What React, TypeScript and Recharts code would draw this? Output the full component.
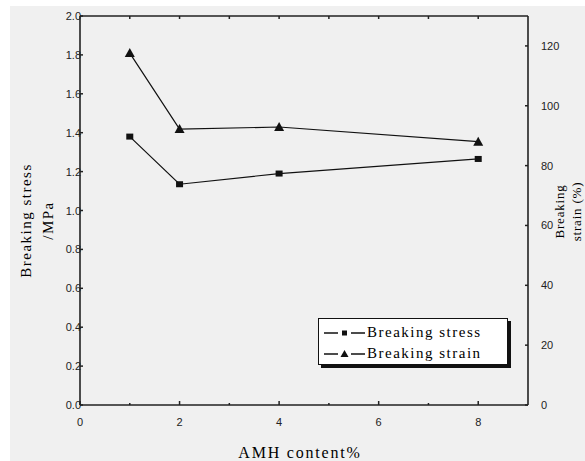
import React from 'react';
import { LineChart, Line, XAxis, YAxis, Legend } from 'recharts';

// AMH content (%) and the two measured properties
const amhContent = [1, 2, 4, 8];
const breakingStress = [1.38, 1.135, 1.19, 1.265]; // MPa, left axis
const breakingStrain = [117.6, 92.2, 92.9, 88]; // %, right axis

const xTicks = [0, 1, 2, 3, 4, 5, 6, 7, 8];
const xLabelTicks = [0, 2, 4, 6, 8];
const topTicks = [1, 2, 3, 4, 5, 6, 7, 8];
const stressTicks = [0, 0.2, 0.4, 0.6, 0.8, 1.0, 1.2, 1.4, 1.6, 1.8, 2.0];
const strainTicks = [0, 20, 40, 60, 80, 100, 120];

const data = amhContent.map((c, i) => ({
  content: c,
  stress: breakingStress[i],
  strain: breakingStrain[i],
}));

const INK = '#111';
const AXIS = { stroke: '#222', strokeWidth: 1.6 };
const tickFont = { fontFamily: '"Liberation Sans", Arial, sans-serif', fontSize: 11, fill: '#222' };
const labelFont = { fontFamily: '"Liberation Serif", "Times New Roman", serif', fill: '#000' };

const BottomTick = ({ x, y, payload }: any) => {
  const major = xLabelTicks.includes(payload.value);
  return (
    <g>
      <line x1={x} x2={x} y1={y} y2={y - (major ? 4 : 2)} stroke="#222" strokeWidth={1.5} />
      {major && (
        <text x={x} y={y + 21} textAnchor="middle" {...tickFont}>
          {payload.value}
        </text>
      )}
    </g>
  );
};

const TopTick = ({ x, y }: any) => (
  <line x1={x} x2={x} y1={y} y2={y + 3} stroke="#222" strokeWidth={1.5} />
);

const LeftTick = ({ x, y, payload }: any) => (
  <g>
    <line x1={x} x2={x + 3} y1={y} y2={y} stroke="#222" strokeWidth={1.5} />
    <text x={x + 1} y={y + 4} textAnchor="end" {...tickFont}>
      {Number(payload.value).toFixed(1)}
    </text>
  </g>
);

const RightTick = ({ x, y, payload }: any) => (
  <g>
    <line x1={x} x2={x - 3} y1={y} y2={y} stroke="#222" strokeWidth={1.5} />
    <text x={x + 13} y={y + 4} textAnchor="start" {...tickFont}>
      {payload.value}
    </text>
  </g>
);

const SquareDot = ({ cx, cy, index }: any) => (
  <rect key={`sq-${index}`} x={cx - 3.5} y={cy - 3} width={7} height={6} fill={INK} />
);

const TriangleDot = ({ cx, cy, index }: any) => (
  <path key={`tr-${index}`} d={`M${cx},${cy - 5} L${cx + 5},${cy + 4} L${cx - 5},${cy + 4} Z`} fill={INK} />
);

const StressLabel = ({ viewBox }: any) => {
  const cy = viewBox.y + viewBox.height / 2 + 10;
  const x1 = viewBox.x - 9;
  const x2 = viewBox.x + 13;
  return (
    <g {...labelFont} fontSize={15} letterSpacing={1.5} textAnchor="middle">
      <text x={x1} y={cy} transform={`rotate(-90, ${x1}, ${cy})`}>Breaking stress</text>
      <text x={x2} y={cy} transform={`rotate(-90, ${x2}, ${cy})`}>/MPa</text>
    </g>
  );
};

const StrainLabel = ({ viewBox }: any) => {
  const cy = viewBox.y + viewBox.height / 2 + 1;
  const x1 = viewBox.x + 36;
  const x2 = viewBox.x + 53;
  return (
    <g {...labelFont} fontSize={13} letterSpacing={0.8} textAnchor="middle">
      <text x={x1} y={cy} transform={`rotate(-90, ${x1}, ${cy})`}>Breaking</text>
      <text x={x2} y={cy} transform={`rotate(-90, ${x2}, ${cy})`}>strain (%)</text>
    </g>
  );
};

const XLabel = ({ viewBox }: any) => (
  <text
    x={viewBox.x + viewBox.width / 2 - 4}
    y={viewBox.y + 53}
    textAnchor="middle"
    {...labelFont}
    fontSize={16}
    letterSpacing={1.8}
  >
    AMH content%
  </text>
);

const LegendSymbol = ({ marker }: { marker: 'square' | 'triangle' }) => (
  <svg width={44} height={12} style={{ display: 'block' }}>
    <line x1={1} x2={15} y1={6} y2={6} stroke={INK} strokeWidth={1.5} />
    <line x1={28} x2={42} y1={6} y2={6} stroke={INK} strokeWidth={1.5} />
    {marker === 'square' ? (
      <rect x={19} y={3.5} width={5} height={5} fill={INK} />
    ) : (
      <path d="M21.5,2 L25.5,9 L17.5,9 Z" fill={INK} />
    )}
  </svg>
);

const renderLegend = () => (
  <div
    style={{
      width: 190,
      height: 47,
      border: '1px solid #111',
      background: '#fff',
      boxShadow: '3px 3px 0 #111',
      padding: '3px 0 0 4px',
      boxSizing: 'border-box',
      fontFamily: labelFont.fontFamily,
      color: '#000',
      fontSize: 15,
      letterSpacing: 1.5,
      lineHeight: '21px',
    }}
  >
    {[
      { name: 'Breaking stress', marker: 'square' as const },
      { name: 'Breaking strain', marker: 'triangle' as const },
    ].map((item) => (
      <div key={item.name} style={{ display: 'flex', alignItems: 'center', whiteSpace: 'nowrap' }}>
        <LegendSymbol marker={item.marker} />
        <span>{item.name}</span>
      </div>
    ))}
  </div>
);

export default function App() {
  return (
    <div style={{ position: 'fixed', left: 0, top: 0, width: 585, height: 461, background: '#fff', overflow: 'hidden' }}>
      <div style={{ position: 'absolute', left: 10, top: 6, right: 0, bottom: 0, background: '#f0f0f0' }} />
      <div style={{ position: 'absolute', left: 0, top: 0 }}>
        <LineChart width={585} height={461} data={data} margin={{ top: 0, right: 17, left: 40, bottom: 26 }}>
          <XAxis
            dataKey="content"
            type="number"
            domain={[0, 9]}
            ticks={xTicks}
            interval={0}
            axisLine={AXIS}
            tickLine={false}
            tickSize={0}
            tickMargin={0}
            tick={<BottomTick />}
            height={30}
            label={<XLabel />}
          />
          <XAxis
            xAxisId="top"
            orientation="top"
            dataKey="content"
            type="number"
            domain={[0, 9]}
            ticks={topTicks}
            interval={0}
            axisLine={AXIS}
            tickLine={false}
            tickSize={0}
            tickMargin={0}
            tick={<TopTick />}
            height={16}
          />
          <YAxis
            yAxisId="stress"
            orientation="left"
            domain={[0, 2]}
            ticks={stressTicks}
            interval={0}
            axisLine={AXIS}
            tickLine={false}
            tickSize={0}
            tickMargin={0}
            tick={<LeftTick />}
            width={40}
            label={<StressLabel />}
          />
          <YAxis
            yAxisId="strain"
            orientation="right"
            domain={[0, 130]}
            ticks={strainTicks}
            interval={0}
            axisLine={AXIS}
            tickLine={false}
            tickSize={0}
            tickMargin={0}
            tick={<RightTick />}
            width={40}
            label={<StrainLabel />}
          />
          <Legend
            layout="vertical"
            align="center"
            verticalAlign="middle"
            content={renderLegend}
            wrapperStyle={{ left: 318, top: 318, width: 193, height: 50 }}
          />
          <Line
            yAxisId="stress"
            dataKey="stress"
            name="Breaking stress"
            stroke={INK}
            strokeWidth={1.2}
            dot={SquareDot}
            isAnimationActive={false}
          />
          <Line
            yAxisId="strain"
            dataKey="strain"
            name="Breaking strain"
            stroke={INK}
            strokeWidth={1.2}
            dot={TriangleDot}
            isAnimationActive={false}
          />
        </LineChart>
      </div>
    </div>
  );
}
